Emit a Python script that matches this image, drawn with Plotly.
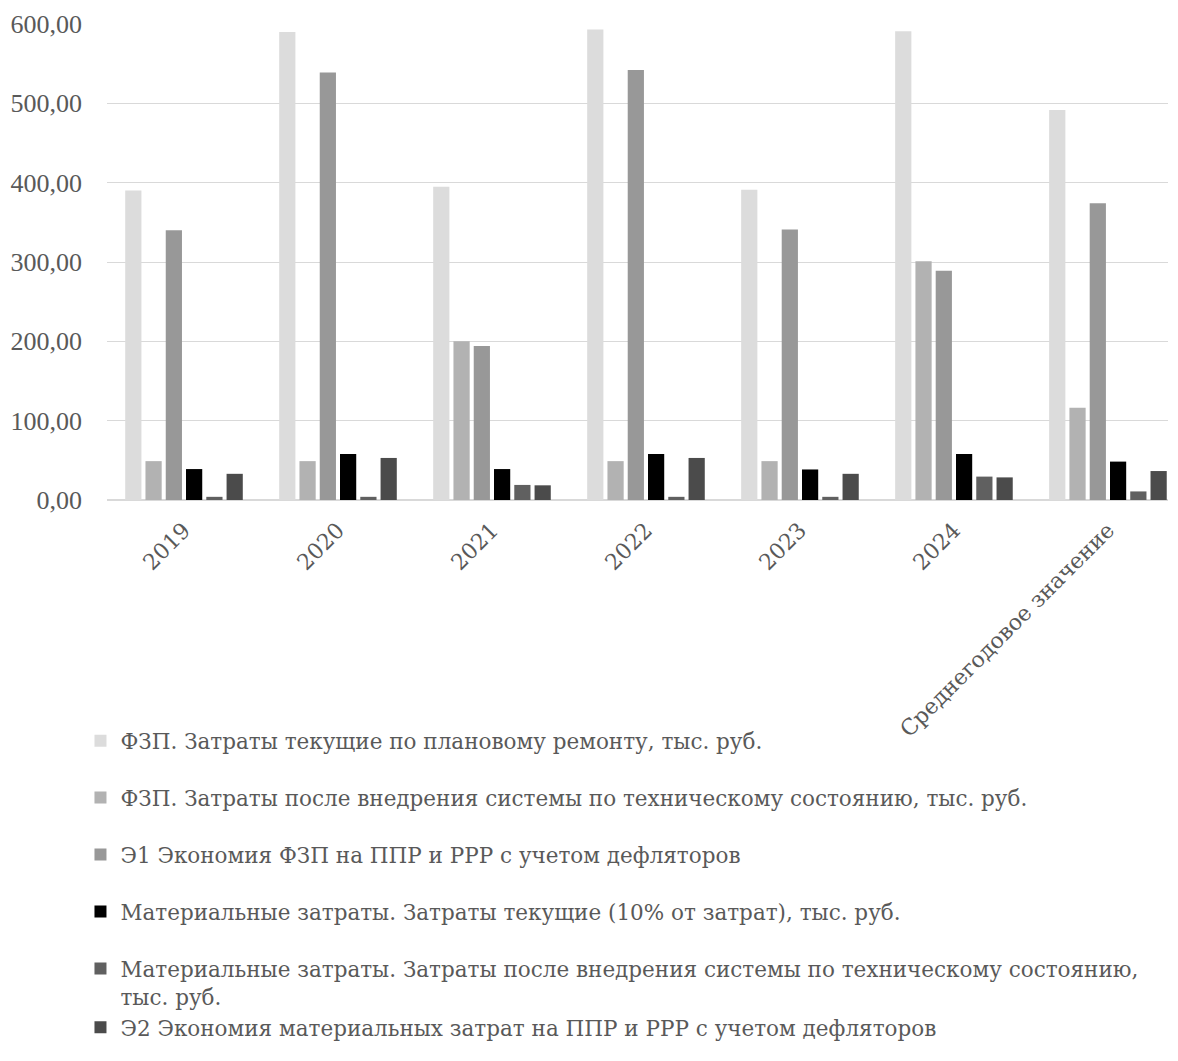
import plotly.graph_objects as go

categories = ["2019", "2020", "2021", "2022", "2023", "2024", "Среднегодовое значение"]

series_names = [
    "ФЗП. Затраты текущие по плановому ремонту, тыс. руб.",
    "ФЗП. Затраты после внедрения системы по техническому состоянию, тыс. руб.",
    "Э1 Экономия ФЗП на ППР и РРР с учетом дефляторов",
    "Материальные затраты. Затраты текущие (10% от затрат), тыс. руб.",
    "Материальные затраты. Затраты после внедрения системы по техническому состоянию,<br>тыс. руб.",
    "Э2 Экономия материальных затрат на ППР и РРР с учетом дефляторов",
]

fzp_current = [390, 590, 395, 593, 391, 591, 491.7]
fzp_after = [49, 49, 200, 49, 49, 301, 116.2]
e1_saving = [340, 539, 194, 542, 341, 289, 374.2]
mat_current = [39, 58, 39, 58, 38.5, 58, 48.4]
mat_after = [4, 4, 19, 4, 4, 29.5, 10.8]
e2_saving = [33, 53, 18.5, 53, 33, 28.5, 36.5]

values = [fzp_current, fzp_after, e1_saving, mat_current, mat_after, e2_saving]
colors = ["#dcdcdc", "#b2b2b2", "#989898", "#000000", "#606060", "#4b4b4b"]
groups = ["g1", "g2", "g3", "g4", "g5", "g5"]

fig = go.Figure()
for name, vals, col, grp in zip(series_names, values, colors, groups):
    fig.add_trace(go.Bar(
        x=categories, y=vals, name=name,
        marker=dict(color=col, line=dict(width=0)),
        legendgroup=grp,
    ))

num_family = "Liberation Serif"
cyr_family = "DejaVu Serif"
txt_color = "#595959"

fig.update_layout(
    width=1178, height=1061,
    margin=dict(l=107, r=10, t=24, b=561, autoexpand=False),
    paper_bgcolor="white", plot_bgcolor="white",
    separators=", ",
    barmode="group", bargap=0.21, bargroupgap=0.2,
    font=dict(family=num_family, color=txt_color, size=26),
    xaxis=dict(
        range=[-0.5, 6.39], tickangle=-45, showgrid=False,
        showline=False, ticks="", zeroline=False, automargin=False,
        ticklabelstandoff=12,
        tickfont=dict(family=cyr_family, size=22, color=txt_color),
    ),
    yaxis=dict(
        range=[0, 600], dtick=100, tickformat=".2f",
        showgrid=True, gridcolor="#d9d9d9", gridwidth=1.3,
        zeroline=True, zerolinecolor="#d9d9d9", zerolinewidth=2,
        ticks="", showline=False, automargin=False,
        ticklabelstandoff=24,
        tickfont=dict(family=num_family, size=26, color=txt_color),
    ),
    legend=dict(
        orientation="v", x=-0.025, xanchor="left",
        y=-0.4625, yanchor="top",
        traceorder="grouped", tracegroupgap=26,
        valign="top", itemclick=False,
        font=dict(family=cyr_family, size=21.5, color=txt_color),
        bgcolor="rgba(0,0,0,0)",
    ),
    showlegend=True,
)

fig.write_html("out.html")
